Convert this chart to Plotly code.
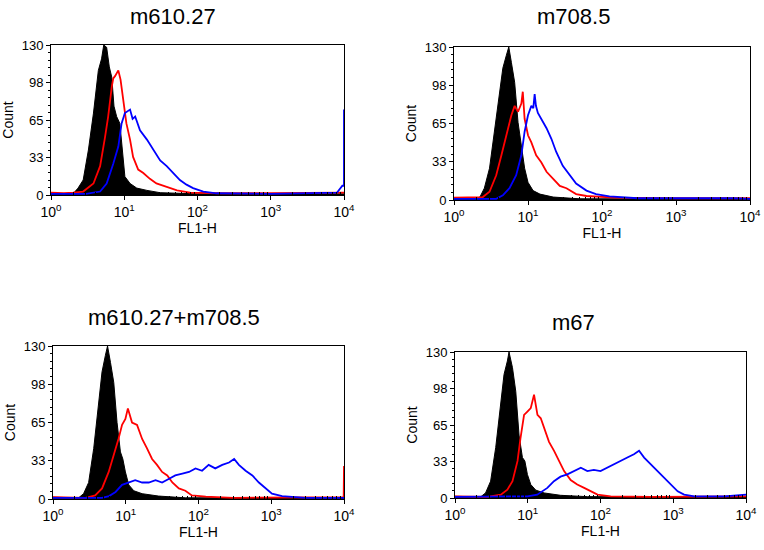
import plotly.graph_objects as go

# ---------------- data ----------------
panel_titles = ["m610.27", "m708.5", "m610.27+m708.5", "m67"]
x_tick_values = [1, 10, 100, 1000, 10000]
x_tick_labels = ["10<sup>0</sup>", "10<sup>1</sup>", "10<sup>2</sup>", "10<sup>3</sup>", "10<sup>4</sup>"]
y_tick_values = [0, 32.5, 65, 97.5, 130]
y_tick_labels = ["0", "33", "65", "98", "130"]
x_label = "FL1-H"
y_label = "Count"

# panel 1: m610.27
p1_black_x = [1.0, 1.41, 2.0, 2.34, 2.75, 3.24, 3.8, 4.43, 4.9, 5.25, 5.75, 6.25, 6.76, 7.24, 7.87, 8.71, 9.33, 10.2, 12.0, 14.8, 20.4, 30.9, 100, 1000, 10000]
p1_black_y = [1.5, 1, 1, 6, 13, 39, 71, 108, 118, 130, 128, 111, 102, 77, 68, 62, 39, 16, 10, 6, 4, 2, 1, 1, 1]
p1_red_x = [1.0, 1.5, 2.0, 2.75, 3.8, 4.68, 5.46, 6.03, 6.76, 7.08, 7.48, 8.3, 8.9, 9.77, 10.7, 12.0, 13.2, 15.5, 18.2, 22.4, 27.5, 38, 52.5, 79.4, 200, 1000, 3000, 10000]
p1_red_y = [2, 1.5, 2, 3, 10, 25, 50, 68, 94, 101, 103, 108, 100, 79, 62, 48, 33, 22, 19, 14, 10, 7, 4, 2, 1.5, 1.5, 2, 2]
p1_blue_x = [1.0, 3.0, 4.68, 5.75, 7.08, 8.3, 9.2, 10.2, 12.0, 13.0, 14.1, 16.4, 20.4, 25.1, 30.9, 38, 46.8, 57.5, 70.8, 87, 120, 182, 1000, 8000, 9500, 9990, 10000]
p1_blue_y = [1, 1, 3, 10, 27, 42, 62, 71, 74, 66, 68, 56, 48, 39, 30, 25, 19, 13, 9, 6, 3, 1.5, 1, 2, 8, 8, 74]

# panel 2: m708.5
p2_black_x = [1.0, 2.0, 2.24, 2.57, 3.02, 3.55, 4.14, 4.57, 5.1, 5.5, 5.96, 6.6, 7.33, 8.13, 9.0, 10.0, 11.7, 14.5, 21.9, 50, 10000]
p2_black_y = [1.5, 1, 2.5, 10, 27, 61, 95, 112, 123, 130, 117, 100, 66, 46, 27, 15, 8, 5, 2.5, 1, 1]
p2_red_x = [1.0, 1.6, 2.45, 3.02, 3.72, 4.37, 5.1, 5.96, 6.6, 7.33, 8.13, 8.5, 9.0, 10.0, 11.1, 12.9, 15.1, 17.8, 21.9, 26.9, 33.1, 44.7, 61.7, 150, 1000, 10000]
p2_red_y = [2, 2, 2.5, 7, 21, 38, 55, 72, 80, 75, 82, 92, 69, 55, 49, 38, 32, 24, 18, 12, 10, 5, 3.4, 2, 1.5, 1.5]
p2_blue_x = [1.0, 3.72, 4.57, 5.62, 6.92, 8.13, 9.0, 10.0, 11.1, 11.8, 12.3, 12.8, 13.6, 15.1, 17.8, 20.7, 24.0, 29.5, 36.3, 44.7, 61.7, 83, 126, 300, 6000, 10000]
p2_blue_y = [1, 1, 4, 10, 21, 38, 58, 72, 80, 78, 90, 80, 74, 69, 61, 52, 41, 29, 21, 14, 8, 5, 3, 1.5, 1.5, 1]

# panel 3: m610.27+m708.5
p3_black_x = [1.0, 2.25, 2.63, 3.09, 3.63, 4.27, 4.72, 5.25, 5.62, 6.17, 6.84, 7.59, 8.45, 9.12, 9.89, 11.0, 12.9, 16.8, 28.2, 66, 10000]
p3_black_y = [1.5, 1, 4.5, 14, 43, 85, 108, 122, 130, 116, 99, 65, 40, 34, 23, 12, 7, 4.5, 2.5, 1, 1]
p3_red_x = [1.0, 2.8, 3.8, 4.72, 5.83, 6.84, 7.94, 8.9, 9.89, 10.7, 12.2, 14.3, 16.8, 19.6, 23.0, 26.9, 31.6, 37.2, 43.7, 53.7, 66, 81, 126, 300, 9900, 10000]
p3_red_y = [1.5, 1, 3, 9, 23, 37, 51, 63, 68, 77, 65, 63, 51, 43, 34, 29, 23, 20, 14, 9, 7, 3, 2, 1, 1.5, 28]
p3_blue_x = [1.0, 4.72, 5.9, 7.24, 8.9, 11.0, 13.5, 16.8, 20.7, 25.7, 31.6, 38.9, 47.9, 60, 74, 91, 112, 138, 170, 212, 263, 309, 359, 444, 550, 676, 832, 1023, 1410, 1950, 2950, 10000]
p3_blue_y = [1, 1, 2.5, 6, 12, 14, 16, 14, 14, 16, 14, 17, 20, 21.5, 23, 26, 24, 29, 26, 29, 31, 34, 29, 24, 20, 14, 9, 4.5, 2.5, 1.7, 1, 1]

# panel 4: m67
p4_black_x = [1.0, 2.25, 2.63, 3.09, 3.63, 4.27, 4.72, 5.25, 5.53, 6.17, 6.84, 7.59, 8.45, 9.12, 9.89, 11.0, 12.9, 16.8, 28.2, 66, 10000]
p4_black_y = [1.5, 1, 4.5, 15, 45, 83, 110, 122, 130, 116, 95, 56, 36, 33, 21, 12, 7, 4.5, 2.4, 1.2, 1]
p4_red_x = [1.0, 2.8, 4.27, 5.25, 6.17, 7.24, 7.94, 8.9, 9.89, 11.0, 12.2, 13.6, 15.1, 16.8, 19.6, 23.0, 26.9, 31.6, 38.9, 47.9, 59.6, 74, 91, 138, 500, 10000]
p4_red_y = [1.5, 1, 3, 7.4, 15, 33, 53, 74, 77, 80, 92, 74, 71, 62, 50, 42, 33, 24, 16, 12, 9, 6, 3, 1.5, 1, 1.5]
p4_blue_x = [1.0, 6.5, 9.89, 13.5, 18.6, 22.9, 28.2, 35, 43.7, 53.7, 66, 81, 100, 125, 155, 191, 234, 288, 339, 398, 490, 603, 750, 933, 1150, 1410, 1950, 5000, 10000]
p4_blue_y = [1, 1, 1.5, 3, 9, 15, 19, 21, 24, 27, 24, 25, 24, 27, 30, 33, 36, 39, 42, 36, 30, 24, 18, 12, 6, 3, 1.5, 1.5, 3]

panels = [
    (p1_black_x, p1_black_y, p1_red_x, p1_red_y, p1_blue_x, p1_blue_y),
    (p2_black_x, p2_black_y, p2_red_x, p2_red_y, p2_blue_x, p2_blue_y),
    (p3_black_x, p3_black_y, p3_red_x, p3_red_y, p3_blue_x, p3_blue_y),
    (p4_black_x, p4_black_y, p4_red_x, p4_red_y, p4_blue_x, p4_blue_y),
]

# ---------------- layout geometry (pixels in the 764x550 window) ----------------
W, H = 764, 550
boxes = [  # left, right, top, bottom
    (51, 344, 45, 195),
    (454, 750, 47, 200),
    (53, 344, 346, 499),
    (455, 746, 352, 498),
]
title_pos = [(173, 17), (573, 17), (174, 317), (573, 322)]

FONT = "Liberation Sans, Arial, sans-serif"
minor_x = [m * 10 ** k for k in range(4) for m in range(2, 10)]
minor_y = [i * 6.5 for i in range(21)]

def px_x(p):
    return p / W

def px_y(p):
    return 1 - p / H

fig = go.Figure()
layout = dict(
    width=W, height=H, autosize=False,
    margin=dict(l=0, r=0, t=0, b=0, autoexpand=False),
    paper_bgcolor="white", plot_bgcolor="white",
    showlegend=False,
    font=dict(family=FONT, color="black"),
)
annotations = []

for i, (bx, by, rx, ry, ux, uy) in enumerate(panels):
    n = "" if i == 0 else str(i + 1)
    xa, ya = "x" + n, "y" + n
    fig.add_trace(go.Scatter(x=bx, y=by, xaxis=xa, yaxis=ya, mode="lines",
                             line=dict(color="black", width=1), fill="tozeroy",
                             fillcolor="black", hoverinfo="skip"))
    fig.add_trace(go.Scatter(x=rx, y=ry, xaxis=xa, yaxis=ya, mode="lines",
                             line=dict(color="#ff0000", width=1.8), hoverinfo="skip"))
    fig.add_trace(go.Scatter(x=ux, y=uy, xaxis=xa, yaxis=ya, mode="lines",
                             line=dict(color="#0000ff", width=1.8), hoverinfo="skip"))
    L, R, T, B = boxes[i]
    layout["xaxis" + n] = dict(
        domain=[px_x(L), px_x(R)], anchor=ya, type="log", range=[0, 4], automargin=False,
        tickmode="array", tickvals=x_tick_values, ticktext=x_tick_labels,
        ticks="outside", ticklen=4, tickcolor="black",
        minor=dict(tickmode="array", tickvals=minor_x, ticks="inside", ticklen=3, tickcolor="black"),
        showline=True, linecolor="black", linewidth=1, mirror=True,
        showgrid=False, zeroline=False,
        tickfont=dict(size=14, family=FONT, color="black"),
        title=dict(text=x_label, font=dict(size=14, family=FONT, color="black"), standoff=2),
    )
    layout["yaxis" + n] = dict(
        domain=[px_y(B), px_y(T)], anchor=xa, range=[0, 130], automargin=False,
        tickmode="array", tickvals=y_tick_values, ticktext=y_tick_labels,
        ticks="outside", ticklen=4, tickcolor="black",
        minor=dict(tickmode="array", tickvals=minor_y, ticks="outside", ticklen=2, tickcolor="black"),
        showline=True, linecolor="black", linewidth=1, mirror=True,
        showgrid=False, zeroline=False,
        tickfont=dict(size=13, family=FONT, color="black"),
        title=dict(text=y_label, font=dict(size=14, family=FONT, color="black"), standoff=4),
    )
    tx, ty = title_pos[i]
    annotations.append(dict(text=panel_titles[i], x=px_x(tx), y=px_y(ty), xref="paper", yref="paper",
                            xanchor="center", yanchor="middle", showarrow=False,
                            font=dict(size=22, family=FONT, color="black")))

layout["annotations"] = annotations
fig.update_layout(**layout)
# remove the page's default body margin so the 764x550 figure fills the window exactly
fig.write_html("out.html",
               config={"displayModeBar": False},
               post_script="document.body.style.margin='0';document.body.style.overflow='hidden';")
